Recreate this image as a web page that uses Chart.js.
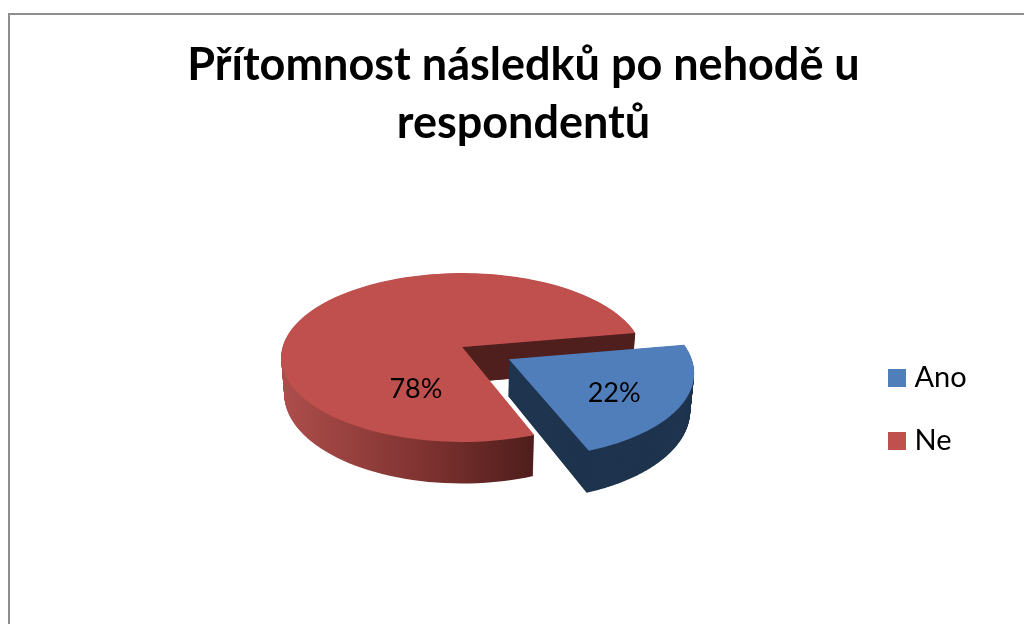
<!DOCTYPE html>
<html lang="cs">
<head>
<meta charset="utf-8">
<title>Přítomnost následků po nehodě u respondentů</title>
<script src="https://cdn.jsdelivr.net/npm/chart.js@4/dist/chart.umd.min.js"></script>
<style>
  html, body { margin: 0; padding: 0; background: #fff; overflow: hidden; }
  #frame { position: absolute; left: 8px; top: 13px; width: 1100px; height: 700px; border: 2px solid #8e8e8e; }
  canvas { position: absolute; left: 0; top: 0; }
</style>
</head>
<body>
<div id="frame"></div>
<canvas id="pie" width="1024" height="624"></canvas>
<script>
// Data
const categories = ["Ano", "Ne"];
const shares = [22, 78];
const titleLines = ["Přítomnost následků po nehodě u", "respondentů"];

const sliceColors = ["#4f7ebb", "#c0504d"];
const FONT = "Lato, 'Open Sans', sans-serif";

// Disk to screen projection, all sizes are fractions of the pie radius
const PERSPECTIVE = 0.124;
const TOP_PLANE = { a: 0.998, b: 0.462, dy: 0 };
const BOTTOM_PLANE = { a: 0.981, b: 0.489, dy: 0.2 };
const EXPLODE = [0.294, 0];
// Where each percentage sits on its slice (degrees, fraction of radius)
const LABEL_SPOTS = [{ deg: 34.6, r: 0.652 }, { deg: 117, r: 0.534 }];

function project(arc, plane, u, v) {
  const w = 1 - PERSPECTIVE * v;
  const R = arc.outerRadius;
  return [arc.x + (R * plane.a * u) / w, arc.y + R * plane.dy + (R * plane.b * v) / w];
}

function sectorPath(ctx, arc, plane, du, dv) {
  const steps = 120;
  const start = arc.startAngle;
  const span = arc.endAngle - arc.startAngle;
  ctx.beginPath();
  ctx.moveTo(...project(arc, plane, du, dv));
  for (let i = 0; i <= steps; i++) {
    const t = start + (span * i) / steps;
    ctx.lineTo(...project(arc, plane, du + Math.cos(t), dv + Math.sin(t)));
  }
  ctx.closePath();
}

function mixPlane(t) {
  return {
    a: TOP_PLANE.a + (BOTTOM_PLANE.a - TOP_PLANE.a) * t,
    b: TOP_PLANE.b + (BOTTOM_PLANE.b - TOP_PLANE.b) * t,
    dy: TOP_PLANE.dy + (BOTTOM_PLANE.dy - TOP_PLANE.dy) * t,
  };
}

// Side of the slice: the same sector repeated from the bottom plane up to the top one
function drawSide(ctx, arc, fill, du, dv) {
  ctx.fillStyle = fill;
  for (let i = 60; i >= 1; i--) {
    sectorPath(ctx, arc, mixPlane(i / 60), du, dv);
    ctx.fill();
  }
}

function drawSlice(ctx, chart, arc, index) {
  const mid = (arc.startAngle + arc.endAngle) / 2;
  const du = Math.cos(mid) * EXPLODE[index];
  const dv = Math.sin(mid) * EXPLODE[index];
  const R = arc.outerRadius;

  if (index === 1) {
    const shade = ctx.createLinearGradient(arc.x - R, 0, arc.x + 0.4 * R, 0);
    shade.addColorStop(0, "#ad4e4b");
    shade.addColorStop(0.55, "#803331");
    shade.addColorStop(1, "#4e1e1c");
    drawSide(ctx, arc, shade, du, dv);

    // Cut face along the slice's clockwise end, seen through the gap
    const t = arc.endAngle;
    const cu = Math.cos(t);
    const cv = Math.sin(t);
    ctx.fillStyle = "#4f1f1e";
    ctx.beginPath();
    ctx.moveTo(...project(arc, TOP_PLANE, 0, 0));
    ctx.lineTo(...project(arc, TOP_PLANE, cu, cv));
    ctx.lineTo(...project(arc, BOTTOM_PLANE, cu, cv));
    ctx.lineTo(...project(arc, BOTTOM_PLANE, 0, 0));
    ctx.closePath();
    ctx.fill();
  } else {
    drawSide(ctx, arc, "#1f344e", du, dv);
  }

  ctx.fillStyle = sliceColors[index];
  sectorPath(ctx, arc, TOP_PLANE, du, dv);
  ctx.fill();
}

function drawLabels(ctx, arcs) {
  ctx.font = "27px " + FONT;
  ctx.fillStyle = "#000";
  ctx.textAlign = "center";
  ctx.textBaseline = "middle";
  arcs.forEach((arc, i) => {
    const mid = (arc.startAngle + arc.endAngle) / 2;
    const rad = (LABEL_SPOTS[i].deg * Math.PI) / 180;
    const u = Math.cos(mid) * EXPLODE[i] + Math.cos(rad) * LABEL_SPOTS[i].r;
    const v = Math.sin(mid) * EXPLODE[i] + Math.sin(rad) * LABEL_SPOTS[i].r;
    const [x, y] = project(arc, TOP_PLANE, u, v);
    ctx.fillText(shares[i] + "%", x, y);
  });
}

const pie3d = {
  id: "pie3d",
  // Title and legend sit off the layout's default places
  afterUpdate(chart) {
    chart.titleBlock.left += 6;
    const legend = chart.legend;
    legend.left = 894 - legend.options.labels.padding;
    legend.top += 143;
    legend.bottom += 143;
  },
  beforeDatasetDraw(chart, args) {
    const ctx = chart.ctx;
    const arcs = args.meta.data;
    ctx.save();
    // Back slice first, the pulled out one lies over it
    drawSlice(ctx, chart, arcs[1], 1);
    drawSlice(ctx, chart, arcs[0], 0);
    drawLabels(ctx, arcs);
    ctx.restore();
    return false;
  },
};

new Chart(document.getElementById("pie"), {
  type: "pie",
  plugins: [pie3d],
  data: {
    labels: categories,
    datasets: [
      {
        data: shares,
        backgroundColor: sliceColors,
        borderColor: sliceColors,
        borderWidth: 12,
      },
    ],
  },
  options: {
    responsive: false,
    animation: false,
    events: [],
    rotation: 80,
    layout: { padding: { left: 17, bottom: 91 } },
    plugins: {
      tooltip: { enabled: false },
      title: {
        display: true,
        text: titleLines,
        color: "#000",
        font: { family: FONT, size: 45, weight: "bold", lineHeight: 1.29 },
        padding: { top: 36, bottom: 9 },
      },
      legend: {
        position: "right",
        labels: {
          color: "#000",
          font: { family: FONT, size: 29 },
          boxWidth: 6,
          boxHeight: 6,
          padding: 34,
        },
      },
    },
  },
});
</script>
</body>
</html>
